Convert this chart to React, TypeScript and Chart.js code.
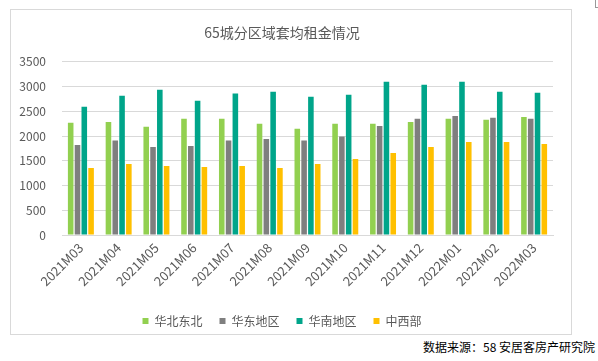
import React, { useEffect, useRef } from "react";
import { Chart, registerables } from "chart.js";

Chart.register(...registerables);

const categories = [
  "2021M03", "2021M04", "2021M05", "2021M06", "2021M07", "2021M08", "2021M09",
  "2021M10", "2021M11", "2021M12", "2022M01", "2022M02", "2022M03",
];
const seriesNames = ["华北东北", "华东地区", "华南地区", "中西部"];
const huabeiDongbei = [2266, 2286, 2185, 2347, 2347, 2246, 2145, 2246, 2246, 2286, 2347, 2327, 2387];
const huadong = [1821, 1908, 1780, 1800, 1908, 1942, 1908, 1989, 2205, 2347, 2407, 2367, 2347];
const huanan = [2590, 2812, 2933, 2711, 2859, 2893, 2792, 2832, 3095, 3035, 3095, 2893, 2873];
const zhongxibu = [1355, 1436, 1396, 1376, 1396, 1355, 1436, 1538, 1659, 1780, 1881, 1881, 1841];
const seriesColors = ["#92D050", "#7F7F7F", "#00A58A", "#FFC000"];
const yTicks = [0, 500, 1000, 1500, 2000, 2500, 3000, 3500];
const titleText = "65城分区域套均租金情况";
const sourceText = "数据来源：58 安居客房产研究院";

const FONT = "'Noto Sans CJK SC', 'Noto Sans', sans-serif";

export default function App() {
  const ref = useRef<HTMLCanvasElement | null>(null);

  useEffect(() => {
    if (!ref.current) return;
    const values = [huabeiDongbei, huadong, huanan, zhongxibu];
    const chart = new Chart(ref.current, {
      type: "bar",
      data: {
        labels: categories,
        datasets: seriesNames.map((name, i) => ({
          label: name,
          data: values[i],
          backgroundColor: seriesColors[i],
          borderWidth: 0,
          barPercentage: 0.82,
          categoryPercentage: 0.72,
        })),
      },
      options: {
        responsive: false,
        devicePixelRatio: 1,
        animation: false,
        layout: { padding: { left: 0, right: 18, top: 0, bottom: -3 } },
        plugins: {
          title: {
            display: true,
            text: titleText,
            color: "#595959",
            font: { family: FONT, size: 14, weight: "normal" },
            padding: { top: 14, bottom: 21 },
          },
          legend: {
            position: "bottom",
            labels: {
              boxWidth: 6,
              boxHeight: 6,
              padding: 17,
              color: "#595959",
              font: { family: FONT, size: 12 },
            },
          },
          tooltip: { enabled: false },
        },
        scales: {
          x: {
            grid: { display: false, drawTicks: false },
            border: { display: true, color: "#D9D9D9" },
            ticks: {
              color: "#595959",
              font: { family: FONT, size: 13 },
              minRotation: 45,
              maxRotation: 45,
              padding: 5,
            },
            afterFit: (s: any) => {
              s.height = 63;
            },
          },
          y: {
            min: 0,
            max: 3500,
            afterBuildTicks: (s: any) => {
              s.ticks = yTicks.map((v) => ({ value: v }));
            },
            grid: { color: "#D9D9D9", drawTicks: false },
            border: { display: false },
            ticks: {
              color: "#595959",
              font: { family: FONT, size: 12 },
              padding: 16,
              callback: (v: any) => String(v),
            },
            afterFit: (s: any) => {
              s.width = 51;
            },
          },
        },
      },
    });
    return () => chart.destroy();
  }, []);

  return (
    <div
      style={{
        position: "fixed",
        left: 0,
        top: 0,
        width: 598,
        height: 361,
        background: "#fff",
        fontFamily: FONT,
      }}
    >
      <div
        style={{
          position: "absolute",
          left: 595,
          top: 0,
          width: 4,
          height: 7,
          borderLeft: "1px solid #999",
          borderBottom: "1px solid #999",
        }}
      />
      <div
        style={{
          position: "absolute",
          left: 10,
          top: 9,
          width: 560,
          height: 324,
          border: "1px solid #D9D9D9",
        }}
      >
        <canvas ref={ref} width={560} height={324} style={{ display: "block" }} />
      </div>
      <div
        style={{
          position: "absolute",
          right: 3,
          top: 339,
          fontSize: 12,
          color: "#000",
          whiteSpace: "nowrap",
          lineHeight: "16px",
        }}
      >
        {sourceText}
      </div>
    </div>
  );
}
